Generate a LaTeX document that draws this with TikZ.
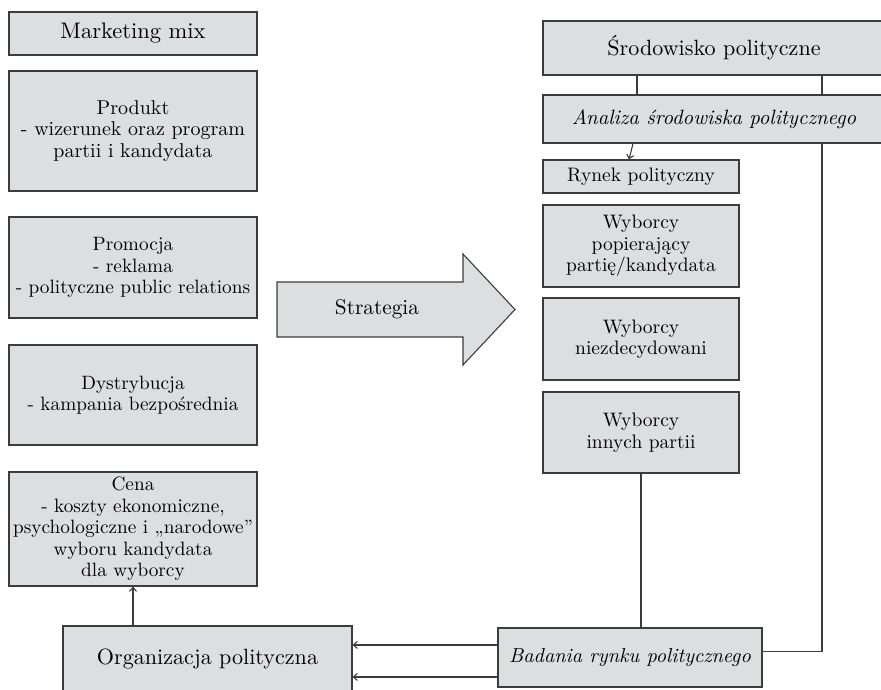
\documentclass[tikz,border=0pt]{standalone}
\usepackage{fontspec}
\setmainfont{lmroman10}[Extension=.otf, UprightFont=*-regular, ItalicFont=*-italic]
\usetikzlibrary{arrows.meta, positioning}

\definecolor{boxfill}{HTML}{DDDEE0}
\definecolor{boxline}{HTML}{3C3C3C}

\newcommand{\fsz}[1]{\fontsize{#1}{21.5}\selectfont}

\begin{document}
\begin{tikzpicture}[x=1pt, y=-1pt, >={Straight Barb[length=4pt,width=7pt]}, line width=1.1pt, draw=boxline,
    box/.style={rectangle, draw=boxline, fill=boxfill, inner sep=0pt, align=center, font=\fsz{19.3}},
    wide/.style={box, minimum width=248pt},
    side/.style={box, minimum width=196pt, minimum height=82pt, font=\fsz{19.5}}]
    \useasboundingbox (0,0) rectangle (881,689);

    % Nodes (left column: marketing mix)
    \node[wide, minimum height=43pt, font=\fsz{22.5}] (mix) at (133,33.5) {Marketing mix};
    \node[wide, minimum height=120pt, font=\fsz{20}] (prod) at (133,131) {Produkt\\- wizerunek oraz program\\partii i kandydata};
    \node[wide, minimum height=101pt] (prom) at (133,267.5) {Promocja\\- reklama\\- polityczne public relations};
    \node[wide, minimum height=100pt] (dyst) at (133,395) {Dystrybucja\\- kampania bezpośrednia};
    \node[wide, minimum height=114pt] (cena) at (133,529) {Cena\\- koszty ekonomiczne,\\psychologiczne i „narodowe”\\wyboru kandydata\\dla wyborcy};

    % Nodes (right column: environment and market)
    \node[box, minimum width=342pt, minimum height=54pt, font=\fsz{22.1}] (srod) at (714,48) {Środowisko polityczne};
    \node[box, minimum width=342pt, minimum height=48pt, font=\fsz{20.7}\itshape] (anal) at (714,119) {Analiza środowiska politycznego};
    \node[side, minimum height=33pt] (rynek) at (641,176.5) {Rynek polityczny};
    \node[side] (popier) at (641,246) {Wyborcy\\popierający\\partię/kandydata};
    \node[side] (niezd) at (641,339) {Wyborcy\\niezdecydowani};
    \node[side, minimum height=81pt] (inne) at (641,432.5) {Wyborcy\\innych partii};

    % Nodes (bottom row)
    \node[box, minimum width=289pt, minimum height=66pt, font=\fsz{22.1}] (org) at (207.5,659) {Organizacja polityczna};
    \node[box, minimum width=264pt, minimum height=59pt, font=\fsz{20.2}\itshape] (bad) at (630,657.5) {Badania rynku politycznego};

    % Strategy arrow
    \draw[fill=boxfill] (277,282) -- (463,282) -- (463,254) -- (515,309.5)
        -- (463,365) -- (463,337) -- (277,337) -- cycle;
    \node[font=\fsz{21.3}] (strat) at (377,309.5) {Strategia};

    % Connectors
    \coordinate (xl) at (637,0);
    \coordinate (xr) at (822,0);
    \coordinate (xa) at (633,0);
    \coordinate (xb) at (629,0);
    \draw (srod.south -| xl) -- (anal.north -| xl);
    \draw (srod.south -| xr) -- (anal.north -| xr);
    \draw[->] (anal.south -| xa) -- (rynek.north -| xb);
    \draw (anal.south -| xr) |- ([yshift=6pt]bad.east);
    \draw (inne.south) -- (inne.south |- bad.north);
    \draw[->] ([yshift=12.5pt]bad.west) -- ([yshift=12.5pt]bad.west -| org.east);
    \draw[->] ([yshift=-19.5pt]bad.west) -- ([yshift=-19.5pt]bad.west -| org.east);
    \draw[->] (org.north -| cena.south) -- (cena.south);
\end{tikzpicture}
\end{document}
